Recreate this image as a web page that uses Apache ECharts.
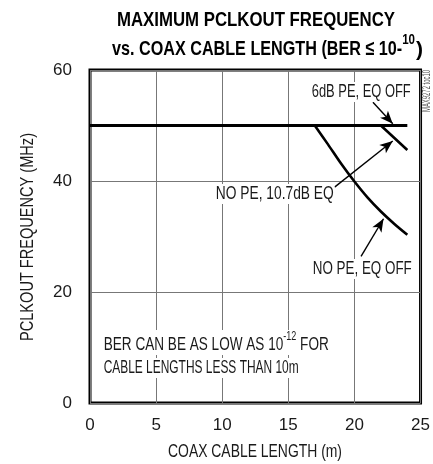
<!DOCTYPE html>
<html>
<head>
<meta charset="utf-8">
<script src="https://cdn.jsdelivr.net/npm/echarts@6/dist/echarts.min.js"></script>
<style>
  html, body { margin: 0; padding: 0; background: #fff; }
  #chart { width: 433px; height: 464px; }
</style>
</head>
<body>
<div id="chart"></div>
<script>
// data
var xTicks = [0, 5, 10, 15, 20, 25];
var yTicks = [0, 20, 40, 60];

var pe6dbX = [0, 24];
var pe6dbY = [50, 50];

var eq107X = [0, 22, 24];
var eq107Y = [50, 50, 45.6];

// flat at 50 below 17 m (hidden under the 6dB PE line)
var eqOffX = [17, 18, 19, 20, 21, 22, 23, 24];
var eqOffY = [50, 46.6, 43.1, 39.9, 37.0, 34.5, 32.3, 30.3];

// arrows: [fromX, fromY, toX, toY]
var arrows = [
  [21.4, 54.2, 22.9, 50.3],
  [18.5, 38.9, 22.9, 47.2],
  [20.5, 26.4, 22.2, 33.2]
];

var FONT = '"Liberation Sans", Arial, sans-serif';

function pairs(xs, ys) {
  var out = [];
  for (var i = 0; i < xs.length; i++) out.push([xs[i], ys[i]]);
  return out;
}

// squeeze text horizontally so it fills the same width as in the picture
var ctx = document.createElement("canvas").getContext("2d");
function textW(t, font) {
  ctx.font = font;
  return ctx.measureText(t).width;
}
function row(text, font, left, right, y, bg, color) {
  var k = (right - left) / textW(text, font);
  var el = {
    type: "text",
    x: left,
    y: y,
    scaleX: k,
    z: 100,
    style: { text: text, font: font, fill: color || "#1a1a1a", verticalAlign: "middle" }
  };
  if (bg) {
    el.style.backgroundColor = "#fff";
    el.style.padding = [1, 1];
  }
  return el;
}
// frags: [text, styleName]; rich: style table; y is the top of the line box
function richRow(frags, rich, left, right, y, bg, color) {
  var total = 0;
  var str = "";
  frags.forEach(function (f) {
    total += textW(f[0], rich[f[1]].font);
    str += "{" + f[1] + "|" + f[0] + "}";
  });
  var el = {
    type: "text",
    x: left,
    y: y,
    scaleX: (right - left) / total,
    z: 100,
    style: { text: str, rich: rich, fill: color || "#1a1a1a" }
  };
  if (bg) {
    el.style.backgroundColor = "#fff";
    el.style.padding = [1, 1];
  }
  return el;
}

var chart = echarts.init(document.getElementById("chart"));

var TB = "bold 21px " + FONT;
var L = "18px " + FONT;

var titleRich = {
  m: { font: TB, lineHeight: 28, verticalAlign: "bottom" },
  s: { font: "bold 15px " + FONT, lineHeight: 28, verticalAlign: "top" }
};
var berRich = {
  n: { font: L, lineHeight: 23, verticalAlign: "bottom" },
  s: { font: "12px " + FONT, lineHeight: 23, verticalAlign: "top" }
};

var graphics = [
  row("MAXIMUM PCLKOUT FREQUENCY", TB, 117, 395, 20, false, "#000"),
  richRow([["vs. COAX CABLE LENGTH (BER \u2264 10-", "m"], ["10", "s"]],
    titleRich, 112, 415, 32, false, "#000"),
  row(")", TB, 416, 423, 50, false, "#000"),
  row("6dB PE, EQ OFF", L, 311, 410, 92, true),
  row("NO PE, 10.7dB EQ", L, 215, 333, 194, true),
  row("NO PE, EQ OFF", L, 312, 411, 269, true),
  richRow([["BER CAN BE AS LOW AS 10", "n"], ["-12", "s"], [" FOR", "n"]],
    berRich, 103, 328, 330, true),
  row("CABLE LENGTHS LESS THAN 10m", L, 103, 298, 368, true),
  row("COAX CABLE LENGTH (m)", L, 168, 342, 452)
];

// y axis name, rotated
var yName = "PCLKOUT FREQUENCY (MHz)";
var yNameLen = 208;
graphics.push({
  type: "text",
  x: 28,
  y: 237 + yNameLen / 2,
  rotation: Math.PI / 2,
  scaleX: yNameLen / textW(yName, L),
  style: { text: yName, font: L, fill: "#1a1a1a", verticalAlign: "middle" }
});

var tagText = "MAX9272 toc10";
var tagK = 42 / textW(tagText, "10px " + FONT);
graphics.push({
  type: "text",
  x: 427,
  y: 112,
  rotation: Math.PI / 2,
  scaleX: tagK,
  style: { text: tagText, font: "10px " + FONT, fill: "#555", verticalAlign: "middle" }
});

var option = {
  animation: false,
  grid: {
    left: 90,
    right: 12,
    top: 70,
    bottom: 61,
    show: true,
    borderColor: "#000",
    borderWidth: 3,
    backgroundColor: "transparent"
  },
  xAxis: {
    type: "value",
    min: xTicks[0],
    max: xTicks[xTicks.length - 1],
    interval: 5,
    axisLine: { show: false },
    axisTick: { show: false },
    splitLine: { show: true, lineStyle: { color: "#777", width: 1 } },
    axisLabel: { margin: 14, fontSize: 17, color: "#1a1a1a", fontFamily: FONT }
  },
  yAxis: {
    type: "value",
    min: yTicks[0],
    max: yTicks[yTicks.length - 1],
    interval: 20,
    axisLine: { show: false },
    axisTick: { show: false },
    splitLine: { show: true, lineStyle: { color: "#777", width: 1 } },
    axisLabel: { margin: 18, fontSize: 17, color: "#1a1a1a", fontFamily: FONT }
  },
  series: [
    {
      name: "NO PE, EQ OFF",
      type: "line",
      data: pairs(eqOffX, eqOffY),
      showSymbol: false,
      smooth: 0.3,
      lineStyle: { color: "#000", width: 2.6 },
      z: 3
    },
    {
      name: "NO PE, 10.7dB EQ",
      type: "line",
      data: pairs(eq107X, eq107Y),
      showSymbol: false,
      lineStyle: { color: "#000", width: 2.6 },
      z: 3
    },
    {
      name: "6dB PE, EQ OFF",
      type: "line",
      data: pairs(pe6dbX, pe6dbY),
      showSymbol: false,
      lineStyle: { color: "#000", width: 3 },
      z: 3,
      markLine: {
        silent: true,
        symbol: ["none", "arrow"],
        symbolSize: [8, 13],
        lineStyle: { color: "#000", width: 1.4, type: "solid" },
        label: { show: false },
        data: arrows.map(function (a) {
          return [{ coord: [a[0], a[1]] }, { coord: [a[2], a[3]] }];
        })
      }
    }
  ],
  graphic: graphics
};

chart.setOption(option);
</script>
</body>
</html>
